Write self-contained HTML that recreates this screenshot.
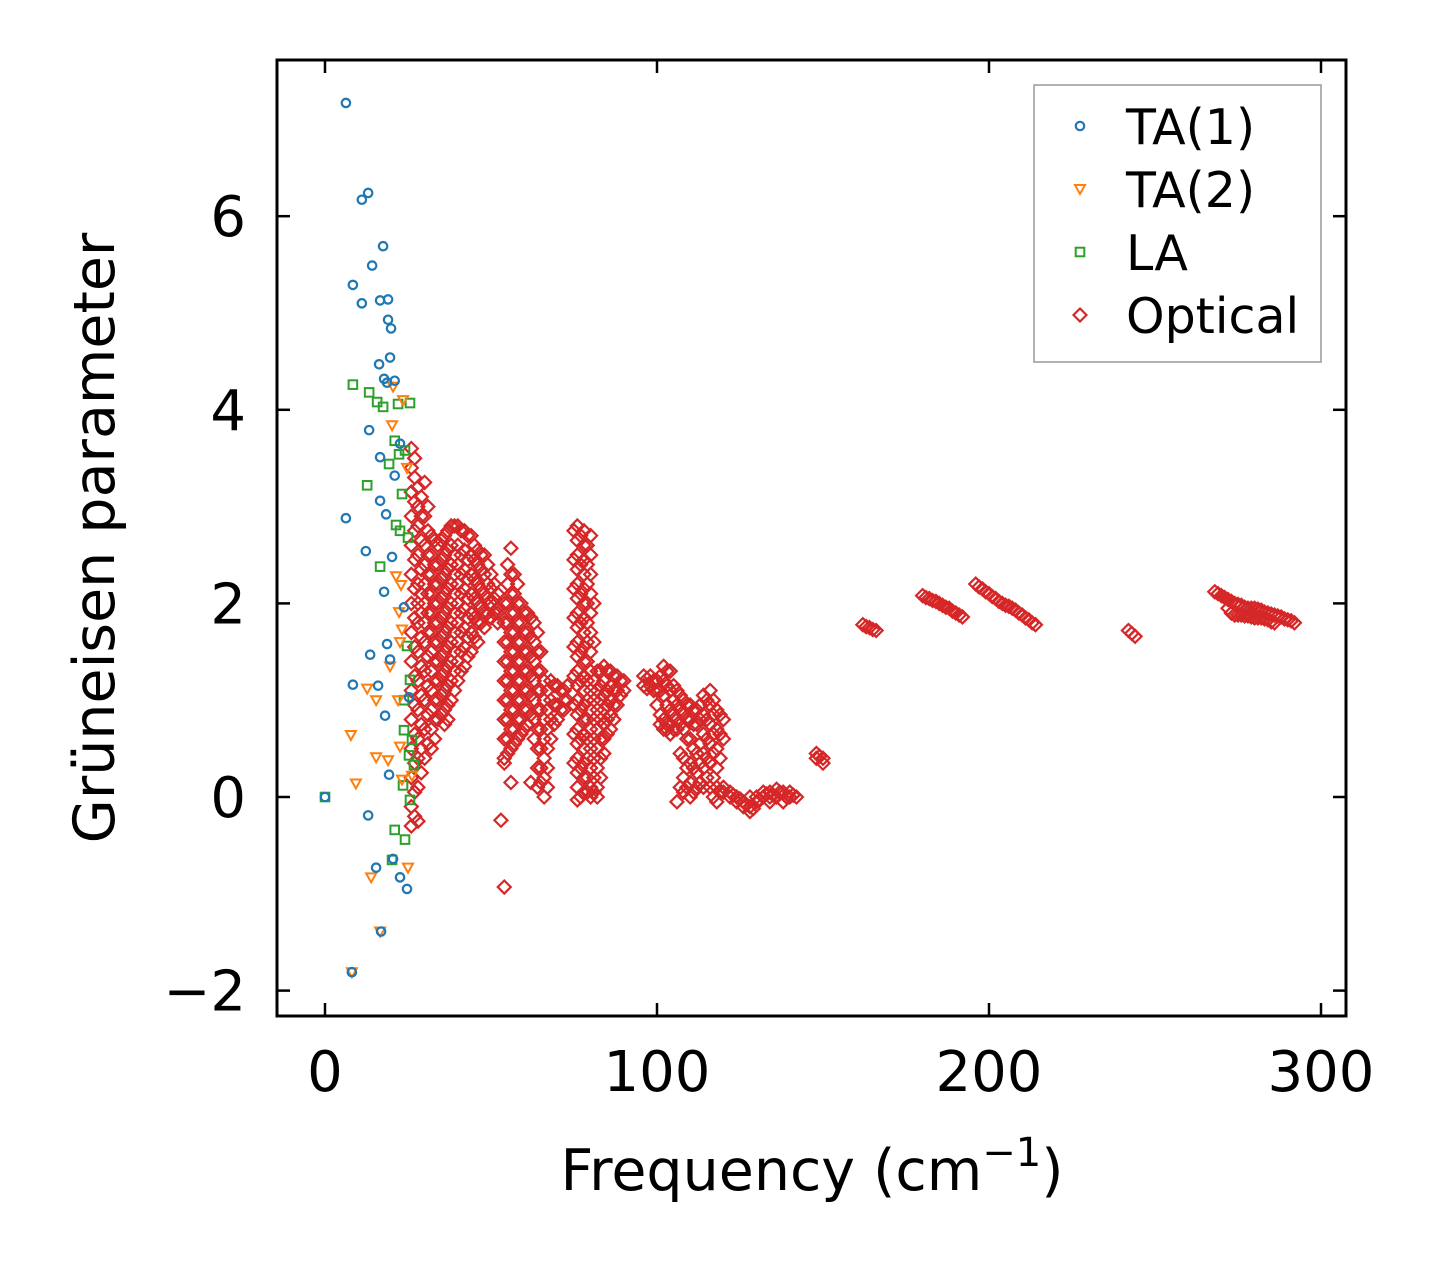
<!DOCTYPE html>
<html><head><meta charset="utf-8">
<style>
html,body{margin:0;padding:0;background:#fff;}
svg{display:block;font-family:"DejaVu Sans","Liberation Sans",sans-serif;}
</style></head>
<body>
<svg id="chart" width="1437" height="1264" viewBox="0 0 1437 1264" xmlns="http://www.w3.org/2000/svg">
<rect width="1437" height="1264" fill="#fff"/>
<g id="marks"></g>
<g id="axes"></g>
<text x="812" y="1190" font-size="57" text-anchor="middle">Frequency (cm<tspan font-size="40" dy="-24">−1</tspan><tspan dy="24">)</tspan></text>
<text transform="translate(114,538) rotate(-90)" font-size="57" text-anchor="middle">Grüneisen parameter</text>
<g>
<rect x="1034" y="85" width="287" height="277" fill="#fff" stroke="#999" stroke-width="1.5"/>
<g id="legend-items"></g>
</g>
</svg>
<script>
const xTicks=[0,100,200,300];
const yTicks=[-2,0,2,4,6];
const ta1=[[6.3,7.17],[13,6.24],[11.1,6.17],[17.5,5.69],[14.2,5.49],[8.4,5.29],[11.1,5.10],[16.6,5.13],[19,5.14],[19,4.93],[19.9,4.84],[19.6,4.54],[16.3,4.47],[17.8,4.32],[18.7,4.28],[21,4.30],[13.3,3.79],[22.6,3.65],[16.6,3.51],[21,3.32],[16.6,3.06],[18.4,2.92],[6.3,2.88],[12.3,2.54],[20.2,2.48],[17.8,2.12],[23.8,1.96],[18.7,1.58],[13.6,1.47],[19.6,1.42],[16,1.15],[8.4,1.16],[25.3,1.03],[18.1,0.84],[0,0],[19.3,0.23],[13,-0.19],[15.4,-0.73],[20.5,-0.64],[22.6,-0.83],[24.7,-0.95],[16.9,-1.39],[8.1,-1.81]];
const ta2=[[20.5,4.24],[23.5,4.10],[20.2,3.84],[24.7,3.40],[21.4,2.28],[22.9,2.19],[22.3,1.91],[23.2,1.73],[22.6,1.60],[19.6,1.35],[12.7,1.12],[15.4,1.00],[7.8,0.64],[22,1.0],[15.4,0.41],[19,0.38],[22.6,0.52],[9.3,0.14],[23.2,0.18],[26.2,0.22],[13.9,-0.83],[16.6,-1.39],[8.1,-1.81],[25,-0.73]];
const la=[[8.4,4.26],[13.3,4.18],[15.7,4.08],[17.5,4.03],[22,4.06],[25.6,4.07],[21,3.68],[22.3,3.54],[24.1,3.58],[19.3,3.44],[12.7,3.22],[23.2,3.13],[21.4,2.81],[22.6,2.75],[25,2.68],[16.6,2.38],[24.7,1.56],[25.6,1.21],[23.8,1.0],[23.8,0.69],[26.2,0.59],[25.3,0.43],[26.8,0.33],[25.6,-0.03],[21,-0.34],[24.1,-0.44],[20.2,-0.65],[23.5,0.12],[0,0]];
const optical=[
[26,[3.6,3.4,3.15,2.9,2.6,2.3,2.0,1.7,1.4,1.1,0.8,0.5,0.2,-0.1,-0.3]],
[27,[3.5,3.3,3.05,2.75,2.45,2.15,1.85,1.55,1.25,0.95,0.65,0.35,0.05,-0.2]],
[28,[3.2,3.0,2.8,2.5,2.2,2.0,1.8,1.5,1.2,0.9,0.6,0.4,0.1,-0.25]],
[29,[3.1,2.9,2.65,2.35,2.1,1.9,1.65,1.35,1.05,0.75,0.5,0.25]],
[30,[3.25,2.9,2.6,2.4,2.2,2.0,1.8,1.6,1.3,1.0,0.7,0.4]],
[31,[3.0,2.75,2.5,2.3,2.1,1.9,1.7,1.45,1.15,0.85,0.55]],
[32,[2.7,2.5,2.3,2.1,1.9,1.7,1.5,1.3,1.1,0.9,0.7,0.5]],
[33,[2.65,2.4,2.2,2.0,1.8,1.6,1.4,1.2,1.0,0.8,0.6]],
[34,[2.6,2.4,2.2,2.0,1.8,1.6,1.4,1.2,1.0,0.8]],
[35,[2.65,2.45,2.25,2.05,1.85,1.65,1.45,1.25,1.05,0.85]],
[36,[2.7,2.5,2.3,2.1,1.9,1.7,1.5,1.3,1.1,0.9,0.75]],
[37,[2.75,2.55,2.35,2.15,1.95,1.75,1.55,1.35,1.15,0.95,0.8]],
[38,[2.8,2.6,2.4,2.2,2.0,1.8,1.6,1.4,1.2,1.0]],
[39,[2.8,2.5,2.3,2.1,1.9,1.7,1.5,1.3,1.1]],
[40,[2.8,2.6,2.4,2.2,2.0,1.8,1.6,1.4,1.2]],
[41,[2.75,2.5,2.3,2.1,1.9,1.7,1.5,1.3]],
[42,[2.75,2.55,2.35,2.15,1.95,1.75,1.55,1.35]],
[43,[2.7,2.45,2.25,2.05,1.85,1.65,1.45]],
[44,[2.7,2.5,2.3,2.1,1.9,1.7,1.5]],
[45,[2.6,2.45,2.25,2.05,1.85,1.65]],
[46,[2.55,2.4,2.2,2.0,1.8,1.6]],
[47,[2.5,2.35,2.15,1.95,1.8]],
[48,[2.5,2.3,2.1,1.9,1.75]],
[49,[2.4,2.2,2.05,1.9]],
[50,[2.3,2.15,2.0,1.85]],
[51,[2.2,2.05,1.9]],
[52,[2.1,1.95,1.8,1.9]],
[53,[-0.24]],
[54,[2.0,1.8,1.6,1.4,1.2,1.0,0.8,0.6,0.4,0.35,-0.93]],
[55,[2.4,2.2,2.0,1.8,1.6,1.4,1.2,1.0,0.8,0.6,0.45]],
[56,[2.57,2.3,2.1,1.9,1.7,1.5,1.3,1.1,0.9,0.7,0.5,0.15]],
[57,[2.3,2.1,1.9,1.7,1.5,1.3,1.1,0.9,0.7,0.55]],
[58,[2.2,2.0,1.8,1.6,1.4,1.2,1.0,0.8,0.6]],
[59,[2.0,1.8,1.6,1.4,1.2,1.0,0.8,0.65]],
[60,[1.9,1.7,1.5,1.3,1.1,0.9,0.7]],
[61,[1.9,1.7,1.5,1.3,1.1,0.9,0.75]],
[62,[1.85,1.65,1.45,1.25,1.05,0.85,0.15]],
[63,[1.8,1.6,1.4,1.2,1.0,0.8,0.6]],
[64,[1.7,1.5,1.3,1.1,0.9,0.7,0.5,0.3,0.1]],
[65,[1.5,1.3,1.1,0.9,0.7,0.5,0.3,0.15]],
[66,[1.2,1.0,0.8,0.6,0.4,0.2,0.0]],
[67,[1.1,0.9,0.7,0.5,0.3,0.1]],
[68,[1.2,1.0,0.8,0.6]],
[69,[1.15,0.95,0.75]],
[70,[1.15,0.95,0.8]],
[71,[1.1,0.9]],
[72,[1.1,1.0,0.9]],
[73,[1.15,1.0]],
[75,[2.75,2.45,2.15,1.85,1.55,1.25,0.95,0.65,0.35]],
[76,[2.8,2.65,2.5,2.35,2.2,2.05,1.9,1.75,1.6,1.45,1.3,1.15,1.0,0.85,0.7,0.55,0.4,0.25,0.1,-0.03]],
[77,[2.7,2.4,2.1,1.8,1.5,1.2,0.9,0.6,0.3,0.0]],
[78,[2.75,2.6,2.45,2.3,2.15,2.0,1.85,1.7,1.55,1.4,1.25,1.1,0.95,0.8,0.65,0.5,0.35,0.2,0.05]],
[79,[2.6,2.4,2.2,2.0,1.8,1.6,1.4,1.2,1.0,0.8,0.6,0.4,0.2,0.05]],
[80,[2.7,2.5,2.3,2.1,1.9,1.7,1.5,1.3,1.1,0.9,0.7,0.5,0.3,0.1,0.0]],
[81,[2.0,1.6,1.2,1.0,0.8,0.6,0.4,0.2,0.05]],
[82,[1.3,1.1,0.9,0.7,0.5,0.3,0.1,0.0]],
[83,[1.3,1.15,1.0,0.8,0.6,0.4,0.2]],
[84,[1.35,1.2,1.05,0.9,0.75,0.6,0.45]],
[85,[1.3,1.1,0.95,0.8,0.65]],
[86,[1.3,1.15,1.0,0.85,0.7]],
[87,[1.25,1.1,0.95,0.8]],
[88,[1.25,1.1,0.95]],
[89,[1.2,1.05]],
[90,[1.2,1.1]],
[96,[1.25,1.15]],
[97,[1.22,1.12]],
[98,[1.25,1.15]],
[99,[1.2,1.1]],
[100,[1.2,1.1,0.95]],
[101,[1.25,1.1,0.85,0.75]],
[102,[1.35,1.2,1.05,0.8,0.7]],
[103,[1.3,1.15,0.95,0.75,0.7]],
[104,[1.3,1.1,0.9,0.75,0.65]],
[105,[1.15,1.0,0.85,0.7]],
[106,[1.1,0.95,0.8,0.7,-0.05]],
[107,[1.05,0.9,0.75,0.45,0.1]],
[108,[1.0,0.85,0.7,0.4,0.2,0.05]],
[109,[0.95,0.8,0.6,0.3,0.1]],
[110,[0.95,0.8,0.6,0.35,0.15,0.0]],
[111,[0.9,0.75,0.5,0.3,0.05]],
[112,[0.9,0.75,0.45,0.25,0.1]],
[113,[0.95,0.8,0.55,0.35,0.15]],
[114,[1.05,0.85,0.65,0.45,0.3,0.1]],
[115,[1.0,0.8,0.6,0.4,0.2]],
[116,[1.1,0.95,0.75,0.55,0.35,0.1]],
[117,[1.0,0.85,0.65,0.45,0.2,0.0]],
[118,[0.9,0.7,0.5,0.3,0.1,-0.05]],
[119,[0.85,0.65,0.4,0.05]],
[120,[0.8,0.6,0.1,0.05]],
[122,[0.05,0.0]],[123,[0.02]],[124,[0.0,-0.05]],[125,[-0.02]],[126,[-0.05,-0.1]],[127,[-0.08]],[128,[-0.1,-0.15,0.0]],[129,[-0.12]],
[130,[-0.05,0.0]],[131,[-0.03]],[132,[0.0,0.05]],[133,[0.03]],[134,[0.05,0.0,-0.05]],[135,[0.02]],[136,[0.08,0.0]],[137,[0.05]],
[138,[0.05,-0.05]],[139,[0.0]],[140,[0.0,0.05]],[141,[0.02]],[142,[0.0]],
[148,[0.45,0.4]],[149,[0.42]],[150,[0.4,0.35]],
[162,[1.78]],[163,[1.76]],[164,[1.75]],[165,[1.73]],[166,[1.72]],
[180,[2.08]],[181,[2.06]],[182,[2.05]],[183,[2.03]],[184,[2.02]],[185,[2.0]],[186,[1.98]],[187,[1.96]],[188,[1.95]],[189,[1.92]],[190,[1.9]],[191,[1.88]],[192,[1.86]],
[196,[2.2]],[197,[2.17]],[198,[2.15]],[199,[2.12]],[200,[2.1]],[201,[2.07]],[202,[2.05]],[203,[2.02]],[204,[2.0]],[205,[1.98]],[206,[1.97]],[207,[1.95]],[208,[1.93]],[209,[1.9]],[210,[1.88]],[211,[1.85]],[212,[1.83]],[213,[1.8]],[214,[1.78]],
[242,[1.72]],[243,[1.69]],[244,[1.66]],
[268,[2.12]],[269,[2.1]],[270,[2.08]],[271,[2.06]],[272,[2.04,1.95]],[273,[2.02,1.9]],[274,[2.0,1.88]],[275,[1.99,1.88]],[276,[1.98,1.88]],[277,[1.96,1.87]],[278,[1.95,1.87]],[279,[1.95,1.86]],[280,[1.95,1.85]],[281,[1.94,1.85]],[282,[1.93,1.85]],[283,[1.91,1.84]],[284,[1.9,1.83]],[285,[1.89,1.81]],[286,[1.88,1.8]],[287,[1.87]],[288,[1.86]],[289,[1.84]],[290,[1.83]],[291,[1.82]],[292,[1.8]]
];
const legendLabels=["TA(1)","TA(2)","LA","Optical"];

const NS="http://www.w3.org/2000/svg";
const X0=277,X1=1346,Y0=60,Y1=1016;
function sx(v){return 325+v*3.32;}
function sy(v){return 797-v*96.8;}
function el(tag,attrs,parent){const e=document.createElementNS(NS,tag);for(const k in attrs)e.setAttribute(k,attrs[k]);parent.appendChild(e);return e;}
const colors=["#1f77b4","#ff7f0e","#2ca02c","#d62728"];
function marker(kind,x,y,parent){
  let e;
  if(kind===0){e=el("circle",{cx:x,cy:y,r:4.2,fill:"none",stroke:colors[0],"stroke-width":2.2},parent);}
  else if(kind===1){e=el("polygon",{points:`${x-5},${y-4} ${x+5},${y-4} ${x},${y+5}`,fill:"none",stroke:colors[1],"stroke-width":2},parent);}
  else if(kind===2){e=el("rect",{x:x-4.3,y:y-4.3,width:8.6,height:8.6,fill:"none",stroke:colors[2],"stroke-width":2},parent);}
  else {e=el("polygon",{points:`${x},${y-6.5} ${x+6.5},${y} ${x},${y+6.5} ${x-6.5},${y}`,fill:"none",stroke:colors[3],"stroke-width":2.2},parent);}
  return e;
}
const marks=document.getElementById("marks");
const gOpt=el("g",{},marks);


optical.forEach(c=>c[1].forEach(g=>{const m=marker(3,sx(c[0]),sy(g),gOpt);

}));
const gLA=el("g",{},marks);


la.forEach(p=>{const m=marker(2,sx(p[0]),sy(p[1]),gLA);

});
const gTA2=el("g",{},marks);


ta2.forEach(p=>{const m=marker(1,sx(p[0]),sy(p[1]),gTA2);

});
const gTA1=el("g",{},marks);


ta1.forEach(p=>{const m=marker(0,sx(p[0]),sy(p[1]),gTA1);

});

const axes=document.getElementById("axes");
const frame=el("rect",{x:X0,y:Y0,width:X1-X0,height:Y1-Y0,fill:"none",stroke:"#000","stroke-width":3},axes);


xTicks.forEach(t=>{const x=sx(t);
el("line",{x1:x,y1:Y1,x2:x,y2:Y1-13,stroke:"#000","stroke-width":2.5},axes);
el("line",{x1:x,y1:Y0,x2:x,y2:Y0+13,stroke:"#000","stroke-width":2.5},axes);
const tx=el("text",{x:x,y:1091,"font-size":56,"text-anchor":"middle"},axes);tx.textContent=t;

});
yTicks.forEach(t=>{const y=sy(t);
el("line",{x1:X0,y1:y,x2:X0+13,y2:y,stroke:"#000","stroke-width":2.5},axes);
el("line",{x1:X1,y1:y,x2:X1-13,y2:y,stroke:"#000","stroke-width":2.5},axes);
const tx=el("text",{x:246,y:y+20,"font-size":56,"text-anchor":"end"},axes);tx.textContent=t<0?"−"+Math.abs(t):t;

});

const li=document.getElementById("legend-items");
legendLabels.forEach((lab,i)=>{const y=126+i*63;
const m=marker(i,1080,y,li);


const t=el("text",{x:1126,y:y+18,"font-size":49},li);t.textContent=lab;

});
</script>
</body></html>
